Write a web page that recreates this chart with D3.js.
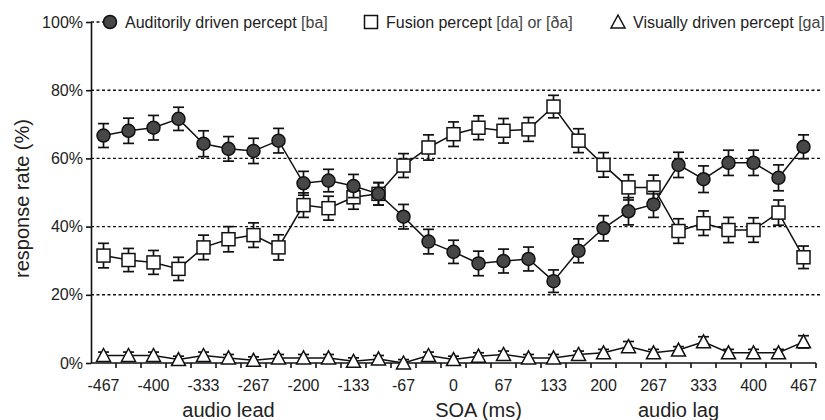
<!DOCTYPE html>
<html>
<head>
<meta charset="utf-8">
<script src="https://cdn.jsdelivr.net/npm/d3@7"></script>
<style>
  body { margin: 0; background: #fff; }
  svg { display: block; font-family: "Liberation Sans", Arial, sans-serif; }
</style>
</head>
<body>
<svg id="chart" width="825" height="420"></svg>
<script>
// SOA steps (ms), one per point
var soa = [-467,-433,-400,-367,-333,-300,-267,-233,-200,-167,-133,-100,-67,-33,0,33,67,100,133,167,200,233,267,300,333,367,400,433,467];
var tickLabels = [-467,-400,-333,-267,-200,-133,-67,0,67,133,200,267,333,400,467];
var yTicks = [0,20,40,60,80,100];

// response rates (%) and error bars
var auditory = [66.7,68.1,69.0,71.6,64.3,62.8,62.2,65.2,52.7,53.5,51.9,49.6,42.9,35.6,32.6,29.2,29.9,30.5,24.0,32.9,39.5,44.5,46.5,58.1,53.9,58.7,58.7,54.3,63.4];
var auditoryErr = [3.5,3.7,3.6,3.4,3.8,3.6,3.7,3.6,3.5,3.3,3.4,3.3,3.6,3.6,3.4,3.6,3.5,3.5,3.3,3.5,3.7,4.0,3.8,3.7,3.9,3.7,3.7,3.8,3.5];
var fusion = [31.5,30.2,29.5,27.6,33.9,36.3,37.5,33.9,46.3,45.4,48.6,49.6,57.9,63.2,67.1,69.0,68.1,68.5,75.2,65.2,58.1,51.5,51.5,38.7,41.0,39.0,39.0,44.1,31.0];
var fusionErr = [3.6,3.4,3.5,3.4,3.6,3.7,3.6,3.7,3.6,3.5,3.5,3.3,3.5,3.7,3.6,3.5,3.6,3.5,3.3,3.5,3.6,3.7,3.6,3.6,3.6,3.7,3.6,3.7,3.3];
var visual = [2.2,2.2,2.2,1.0,2.2,1.5,0.8,1.5,1.5,1.5,0.5,1.2,0,2.2,1.0,2.0,2.5,1.5,1.5,2.5,3.0,4.8,3.0,3.8,6.2,3.0,3.0,3.0,6.2];
var visualErr = [1,1,1,1,1,1,1,1,1,1,1,1,1,1,1,1,1,1,1,1,1,1.5,1,1,1.5,1,1,1,1.8];

var legendItems = [
  {shape: "circle", text: "Auditorily driven percept ", ipa: "[ba]"},
  {shape: "square", text: "Fusion percept ", ipa: "[da] or [ða]"},
  {shape: "triangle", text: "Visually driven percept ", ipa: "[ga]"}
];

var svg = d3.select("#chart");
var plotL = 91, plotR = 816, plotT = 22, plotB = 363;

var x = d3.scaleBand().domain(soa).range([plotL, plotR]);
var y = d3.scaleLinear().domain([0, 100]).range([plotB, plotT]);
var cx = function(d){ return x(d) + x.bandwidth() / 2; };

// dashed grid
svg.append("g").selectAll("line")
  .data(yTicks.filter(function(d){ return d > 0; }))
  .enter().append("line")
  .attr("x1", plotL)
  .attr("x2", function(d){ return d === 100 ? plotL + 12 : 822; })
  .attr("y1", function(d){ return y(d); })
  .attr("y2", function(d){ return y(d); })
  .attr("stroke", "#111")
  .attr("stroke-width", 1.4)
  .attr("stroke-dasharray", "3,2.5");

// y axis
var yAxis = svg.append("g")
  .attr("transform", "translate(" + plotL + ",0)")
  .call(d3.axisLeft(y).tickValues(yTicks).tickFormat(function(d){ return d + "%"; }).tickSize(5).tickSizeOuter(0).tickPadding(3));
yAxis.selectAll("text").attr("font-size", 16).attr("fill", "#222").attr("font-family", "Liberation Sans, Arial, sans-serif");
yAxis.selectAll("line, path").attr("stroke", "#111").attr("stroke-width", 1.6);

// x axis line + ticks between points
svg.append("line")
  .attr("x1", plotL).attr("x2", plotR)
  .attr("y1", plotB).attr("y2", plotB)
  .attr("stroke", "#111").attr("stroke-width", 1.6);
svg.append("g").selectAll("line")
  .data(soa.slice(1).concat(["end"]))
  .enter().append("line")
  .attr("x1", function(d){ return d === "end" ? plotR : x(d); })
  .attr("x2", function(d){ return d === "end" ? plotR : x(d); })
  .attr("y1", plotB).attr("y2", plotB + 5)
  .attr("stroke", "#111").attr("stroke-width", 1.6);

var xAxis = svg.append("g")
  .attr("transform", "translate(0," + plotB + ")")
  .call(d3.axisBottom(x).tickValues(tickLabels).tickSize(0).tickPadding(17));
xAxis.select(".domain").remove();
xAxis.selectAll("text").attr("font-size", 16).attr("fill", "#222").attr("font-family", "Liberation Sans, Arial, sans-serif");

// axis titles
svg.append("text")
  .attr("transform", "translate(29," + (y(50) + 6) + ") rotate(-90)")
  .attr("text-anchor", "middle")
  .attr("font-size", 20).attr("fill", "#222")
  .text("response rate (%)");

var bottomTitles = [["audio lead", -300], ["SOA (ms)", 33], ["audio lag", 300]];
svg.selectAll(".btitle").data(bottomTitles).enter().append("text")
  .attr("class", "btitle")
  .attr("x", function(d){ return cx(d[1]); })
  .attr("y", 417)
  .attr("text-anchor", "middle")
  .attr("font-size", 20).attr("fill", "#222")
  .text(function(d){ return d[0]; });

// series drawing
var line = d3.line().x(function(d){ return cx(d.t); }).y(function(d){ return y(d.v); });

function pack(vals, errs){
  return soa.map(function(t, i){ return {t: t, v: vals[i], e: errs[i]}; });
}

function drawMarker(sel, shape){
  if (shape === "circle") {
    sel.append("circle").attr("r", 6.5).attr("fill", "#474747").attr("stroke", "#111").attr("stroke-width", 1.5);
  } else if (shape === "square") {
    sel.append("rect").attr("x", -6.5).attr("y", -6.5).attr("width", 13).attr("height", 13)
      .attr("fill", "#fff").attr("stroke", "#111").attr("stroke-width", 1.5);
  } else {
    sel.append("path").attr("d", "M0,-7L7,6L-7,6Z")
      .attr("fill", "#fff").attr("stroke", "#111").attr("stroke-width", 1.5);
  }
}

function drawSeries(data, shape){
  var g = svg.append("g");
  g.append("path").datum(data)
    .attr("fill", "none").attr("stroke", "#111").attr("stroke-width", 1.5)
    .attr("d", line);
  var eb = g.selectAll(".eb").data(data).enter().append("g");
  eb.append("line")
    .attr("x1", function(d){ return cx(d.t); }).attr("x2", function(d){ return cx(d.t); })
    .attr("y1", function(d){ return y(d.v - d.e); }).attr("y2", function(d){ return y(d.v + d.e); });
  eb.append("line")
    .attr("x1", function(d){ return cx(d.t) - 5.5; }).attr("x2", function(d){ return cx(d.t) + 5.5; })
    .attr("y1", function(d){ return y(d.v + d.e); }).attr("y2", function(d){ return y(d.v + d.e); });
  eb.append("line")
    .attr("x1", function(d){ return cx(d.t) - 5.5; }).attr("x2", function(d){ return cx(d.t) + 5.5; })
    .attr("y1", function(d){ return y(d.v - d.e); }).attr("y2", function(d){ return y(d.v - d.e); });
  eb.selectAll("line").attr("stroke", "#111").attr("stroke-width", 1.7);
  var m = g.selectAll(".m").data(data).enter().append("g")
    .attr("transform", function(d){ return "translate(" + cx(d.t) + "," + y(d.v) + ")"; });
  drawMarker(m, shape);
}

drawSeries(pack(visual, visualErr), "triangle");
drawSeries(pack(fusion, fusionErr), "square");
drawSeries(pack(auditory, auditoryErr), "circle");

// legend
var legendX = [110, 371, 618];
var lg = svg.selectAll(".lg").data(legendItems).enter().append("g")
  .attr("transform", function(d, i){ return "translate(" + legendX[i] + "," + y(100) + ")"; });
lg.each(function(d){ drawMarker(d3.select(this), d.shape); });
var lt = lg.append("text").attr("x", 15).attr("y", 6)
  .attr("font-size", 16).attr("fill", "#222");
lt.append("tspan").text(function(d){ return d.text; });
lt.append("tspan").attr("fill", "#444").text(function(d){ return d.ipa; });
</script>
</body>
</html>
